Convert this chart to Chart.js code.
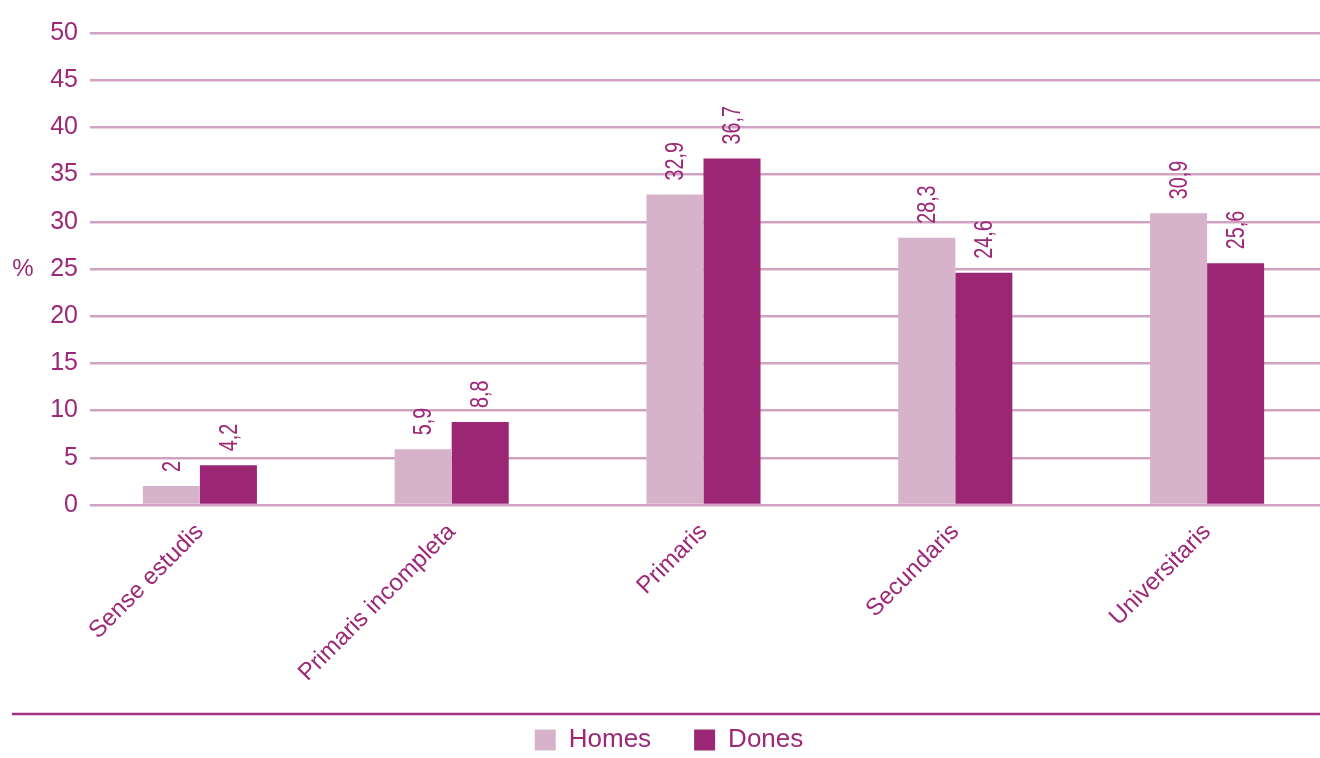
<!DOCTYPE html>
<html>
<head>
<meta charset="utf-8">
<script src="https://cdn.jsdelivr.net/npm/chart.js@4.4.1/dist/chart.umd.min.js"></script>
<style>
  html, body { margin: 0; padding: 0; background: #ffffff; }
  #wrap { width: 1320px; height: 758px; position: relative; }
</style>
</head>
<body>
<div id="wrap"><canvas id="c" width="1320" height="758"></canvas></div>
<script>
const categories = ['Sense estudis', 'Primaris incompleta', 'Primaris', 'Secundaris', 'Universitaris'];
const homes = [2, 5.9, 32.9, 28.3, 30.9];
const dones = [4.2, 8.8, 36.7, 24.6, 25.6];
const seriesNames = ['Homes', 'Dones'];
const yTicks = [0, 5, 10, 15, 20, 25, 30, 35, 40, 45, 50];

const FONT = "'Liberation Sans', Arial, sans-serif";
const TEXT = '#9c2877';
const HOMES_COLOR = '#d6b2cb';
const DONES_COLOR = '#9b2673';
const GRID = '#d1a3c2';

const fmt = v => String(v).replace('.', ',');

const extras = {
  id: 'extras',
  afterLayout(chart) {
    // widen the category band so groups sit as in the original
    const x = chart.scales.x;
    x.left = 74;
    x.right = 1333;
    x.width = x.right - x.left;
    x.configure();
    x._computeLabelArea = () => undefined;
  },
  afterDatasetsDraw(chart) {
    const ctx = chart.ctx;
    ctx.save();
    ctx.fillStyle = TEXT;
    ctx.font = '26px ' + FONT;
    ctx.textAlign = 'left';
    ctx.textBaseline = 'middle';
    chart.data.datasets.forEach((ds, di) => {
      const meta = chart.getDatasetMeta(di);
      meta.data.forEach((bar, i) => {
        ctx.save();
        ctx.translate(bar.x + 1, bar.y - 14);
        ctx.rotate(-Math.PI / 2);
        ctx.scale(0.76, 1);
        ctx.fillText(fmt(ds.data[i]), 0, 0);
        ctx.restore();
      });
    });
    ctx.restore();
  },
  afterDraw(chart) {
    const ctx = chart.ctx;
    const a = chart.chartArea;
    ctx.save();
    ctx.fillStyle = TEXT;
    ctx.font = '24px ' + FONT;
    ctx.textAlign = 'center';
    ctx.textBaseline = 'middle';
    ctx.fillText('%', 23, (a.top + a.bottom) / 2);
    ctx.strokeStyle = '#a3317f';
    ctx.lineWidth = 2.5;
    ctx.beginPath();
    ctx.moveTo(12, 714);
    ctx.lineTo(1320, 714);
    ctx.stroke();
    ctx.restore();
  }
};

new Chart(document.getElementById('c'), {
  type: 'bar',
  data: {
    labels: categories,
    datasets: [
      { label: seriesNames[0], data: homes, backgroundColor: HOMES_COLOR, borderWidth: 0 },
      { label: seriesNames[1], data: dones, backgroundColor: DONES_COLOR, borderWidth: 0 }
    ]
  },
  options: {
    responsive: false,
    animation: false,
    devicePixelRatio: 1,
    layout: { padding: { top: 33, left: 18, right: 0, bottom: 0 } },
    datasets: { bar: { barPercentage: 1, categoryPercentage: 0.453 } },
    plugins: {
      tooltip: { enabled: false },
      legend: {
        position: 'bottom',
        maxHeight: 74,
        labels: {
          boxWidth: 21,
          boxHeight: 21,
          padding: 43,
          color: TEXT,
          font: { family: FONT, size: 26 }
        }
      }
    },
    scales: {
      x: {
        grid: { display: false, drawTicks: false },
        border: { display: false },
        ticks: {
          color: TEXT,
          font: { family: FONT, size: 24 },
          minRotation: 45,
          maxRotation: 45,
          padding: 13
        },
        afterFit(s) { s.height = 179; }
      },
      y: {
        min: 0,
        max: 50,
        afterBuildTicks(s) { s.ticks = yTicks.map(v => ({ value: v })); },
        grid: { color: GRID, lineWidth: 2.5, drawTicks: false },
        border: { display: false },
        ticks: {
          color: TEXT,
          font: { family: FONT, size: 25 },
          padding: 12
        },
        afterFit(s) { s.width = 72; }
      }
    }
  },
  plugins: [extras]
});
</script>
</body>
</html>
